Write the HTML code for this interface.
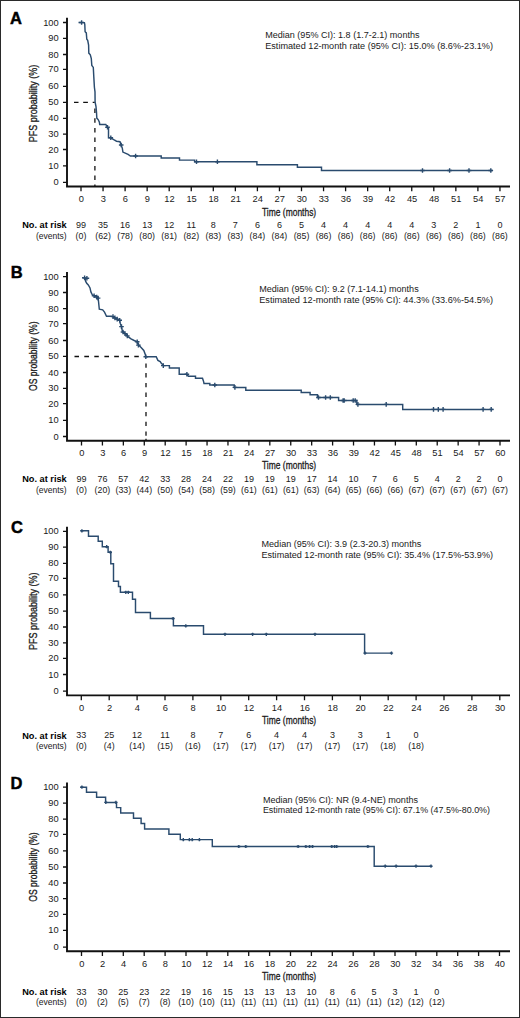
<!DOCTYPE html><html><head><meta charset="utf-8"><style>html,body{margin:0;padding:0;background:#fff}svg{display:block}text{font-family:"Liberation Sans",sans-serif}</style></head><body>
<svg width="520" height="1018" viewBox="0 0 520 1018">
<rect x="0" y="0" width="520" height="1018" fill="#fff"/>
<rect x="0.5" y="0.5" width="519" height="1017" fill="none" stroke="#2a2a2a" stroke-width="1"/>
<text x="9.90" y="23.75" font-size="16.5" font-weight="bold" fill="#000" stroke="#000" stroke-width="0.45">A</text>
<path d="M67,17.80 V186.50 H510" fill="none" stroke="#111" stroke-width="1.9"/>
<text x="58.70" y="185.40" font-size="9.3" text-anchor="end" fill="#1a1a1a">0</text>
<text x="58.70" y="168.90" font-size="9.3" text-anchor="end" fill="#1a1a1a">10</text>
<text x="58.70" y="152.50" font-size="9.3" text-anchor="end" fill="#1a1a1a">20</text>
<text x="58.70" y="137.20" font-size="9.3" text-anchor="end" fill="#1a1a1a">30</text>
<text x="58.70" y="121.30" font-size="9.3" text-anchor="end" fill="#1a1a1a">40</text>
<text x="58.70" y="105.40" font-size="9.3" text-anchor="end" fill="#1a1a1a">50</text>
<text x="58.70" y="89.40" font-size="9.3" text-anchor="end" fill="#1a1a1a">60</text>
<text x="58.70" y="72.40" font-size="9.3" text-anchor="end" fill="#1a1a1a">70</text>
<text x="58.70" y="57.50" font-size="9.3" text-anchor="end" fill="#1a1a1a">80</text>
<text x="58.70" y="41.30" font-size="9.3" text-anchor="end" fill="#1a1a1a">90</text>
<text x="58.70" y="25.50" font-size="9.3" text-anchor="end" fill="#1a1a1a">100</text>
<text x="81.30" y="202.20" font-size="9.3" text-anchor="middle" fill="#1a1a1a">0</text>
<text x="103.35" y="202.20" font-size="9.3" text-anchor="middle" fill="#1a1a1a">3</text>
<text x="125.40" y="202.20" font-size="9.3" text-anchor="middle" fill="#1a1a1a">6</text>
<text x="147.45" y="202.20" font-size="9.3" text-anchor="middle" fill="#1a1a1a">9</text>
<text x="169.50" y="202.20" font-size="9.3" text-anchor="middle" fill="#1a1a1a">12</text>
<text x="191.55" y="202.20" font-size="9.3" text-anchor="middle" fill="#1a1a1a">15</text>
<text x="213.60" y="202.20" font-size="9.3" text-anchor="middle" fill="#1a1a1a">18</text>
<text x="235.65" y="202.20" font-size="9.3" text-anchor="middle" fill="#1a1a1a">21</text>
<text x="257.70" y="202.20" font-size="9.3" text-anchor="middle" fill="#1a1a1a">24</text>
<text x="279.75" y="202.20" font-size="9.3" text-anchor="middle" fill="#1a1a1a">27</text>
<text x="301.80" y="202.20" font-size="9.3" text-anchor="middle" fill="#1a1a1a">30</text>
<text x="323.85" y="202.20" font-size="9.3" text-anchor="middle" fill="#1a1a1a">33</text>
<text x="345.90" y="202.20" font-size="9.3" text-anchor="middle" fill="#1a1a1a">36</text>
<text x="367.95" y="202.20" font-size="9.3" text-anchor="middle" fill="#1a1a1a">39</text>
<text x="390.00" y="202.20" font-size="9.3" text-anchor="middle" fill="#1a1a1a">42</text>
<text x="412.05" y="202.20" font-size="9.3" text-anchor="middle" fill="#1a1a1a">45</text>
<text x="434.10" y="202.20" font-size="9.3" text-anchor="middle" fill="#1a1a1a">48</text>
<text x="456.15" y="202.20" font-size="9.3" text-anchor="middle" fill="#1a1a1a">51</text>
<text x="478.20" y="202.20" font-size="9.3" text-anchor="middle" fill="#1a1a1a">54</text>
<text x="500.25" y="202.20" font-size="9.3" text-anchor="middle" fill="#1a1a1a">57</text>
<path d="M63,182.40H67M63,165.90H67M63,149.50H67M63,134.20H67M63,118.30H67M63,102.40H67M63,86.40H67M63,69.40H67M63,54.50H67M63,38.30H67M63,22.50H67M81.00,186.50V191.30M103.05,186.50V191.30M125.10,186.50V191.30M147.15,186.50V191.30M169.20,186.50V191.30M191.25,186.50V191.30M213.30,186.50V191.30M235.35,186.50V191.30M257.40,186.50V191.30M279.45,186.50V191.30M301.50,186.50V191.30M323.55,186.50V191.30M345.60,186.50V191.30M367.65,186.50V191.30M389.70,186.50V191.30M411.75,186.50V191.30M433.80,186.50V191.30M455.85,186.50V191.30M477.90,186.50V191.30M499.95,186.50V191.30" stroke="#111" stroke-width="1.3"/>
<text x="289.10" y="215.50" font-size="11.2" text-anchor="middle" textLength="54.20" lengthAdjust="spacingAndGlyphs" fill="#1a1a1a" stroke="#1a1a1a" stroke-width="0.3">Time (months)</text>
<text transform="translate(37.4,103.50) rotate(-90)" x="0" y="0" font-size="11.2" text-anchor="middle" textLength="77.60" lengthAdjust="spacingAndGlyphs" fill="#1a1a1a" stroke="#1a1a1a" stroke-width="0.3">PFS probability (%)</text>
<text x="265.20" y="37.90" font-size="8.9" textLength="154.30" lengthAdjust="spacingAndGlyphs" fill="#1a1a1a">Median (95% CI): 1.8 (1.7-2.1) months</text>
<text x="265.20" y="49.10" font-size="8.9" textLength="227.80" lengthAdjust="spacingAndGlyphs" fill="#1a1a1a">Estimated 12-month rate (95% CI): 15.0% (8.6%-23.1%)</text>
<text x="66.70" y="228.20" font-size="9.1" text-anchor="end" font-weight="bold" textLength="44.50" lengthAdjust="spacingAndGlyphs" fill="#000">No. at risk</text>
<text x="66.70" y="238.80" font-size="8.8" text-anchor="end" textLength="30.80" lengthAdjust="spacingAndGlyphs" fill="#1a1a1a">(events)</text>
<text x="81.00" y="228.00" font-size="9" text-anchor="middle" fill="#1a1a1a">99</text>
<text x="81.00" y="238.80" font-size="8.8" text-anchor="middle" fill="#1a1a1a">(0)</text>
<text x="103.05" y="228.00" font-size="9" text-anchor="middle" fill="#1a1a1a">35</text>
<text x="103.05" y="238.80" font-size="8.8" text-anchor="middle" fill="#1a1a1a">(62)</text>
<text x="125.10" y="228.00" font-size="9" text-anchor="middle" fill="#1a1a1a">16</text>
<text x="125.10" y="238.80" font-size="8.8" text-anchor="middle" fill="#1a1a1a">(78)</text>
<text x="147.15" y="228.00" font-size="9" text-anchor="middle" fill="#1a1a1a">13</text>
<text x="147.15" y="238.80" font-size="8.8" text-anchor="middle" fill="#1a1a1a">(80)</text>
<text x="169.20" y="228.00" font-size="9" text-anchor="middle" fill="#1a1a1a">12</text>
<text x="169.20" y="238.80" font-size="8.8" text-anchor="middle" fill="#1a1a1a">(81)</text>
<text x="191.25" y="228.00" font-size="9" text-anchor="middle" fill="#1a1a1a">11</text>
<text x="191.25" y="238.80" font-size="8.8" text-anchor="middle" fill="#1a1a1a">(82)</text>
<text x="213.30" y="228.00" font-size="9" text-anchor="middle" fill="#1a1a1a">8</text>
<text x="213.30" y="238.80" font-size="8.8" text-anchor="middle" fill="#1a1a1a">(83)</text>
<text x="235.35" y="228.00" font-size="9" text-anchor="middle" fill="#1a1a1a">7</text>
<text x="235.35" y="238.80" font-size="8.8" text-anchor="middle" fill="#1a1a1a">(83)</text>
<text x="257.40" y="228.00" font-size="9" text-anchor="middle" fill="#1a1a1a">6</text>
<text x="257.40" y="238.80" font-size="8.8" text-anchor="middle" fill="#1a1a1a">(84)</text>
<text x="279.45" y="228.00" font-size="9" text-anchor="middle" fill="#1a1a1a">6</text>
<text x="279.45" y="238.80" font-size="8.8" text-anchor="middle" fill="#1a1a1a">(84)</text>
<text x="301.50" y="228.00" font-size="9" text-anchor="middle" fill="#1a1a1a">5</text>
<text x="301.50" y="238.80" font-size="8.8" text-anchor="middle" fill="#1a1a1a">(85)</text>
<text x="323.55" y="228.00" font-size="9" text-anchor="middle" fill="#1a1a1a">4</text>
<text x="323.55" y="238.80" font-size="8.8" text-anchor="middle" fill="#1a1a1a">(86)</text>
<text x="345.60" y="228.00" font-size="9" text-anchor="middle" fill="#1a1a1a">4</text>
<text x="345.60" y="238.80" font-size="8.8" text-anchor="middle" fill="#1a1a1a">(86)</text>
<text x="367.65" y="228.00" font-size="9" text-anchor="middle" fill="#1a1a1a">4</text>
<text x="367.65" y="238.80" font-size="8.8" text-anchor="middle" fill="#1a1a1a">(86)</text>
<text x="389.70" y="228.00" font-size="9" text-anchor="middle" fill="#1a1a1a">4</text>
<text x="389.70" y="238.80" font-size="8.8" text-anchor="middle" fill="#1a1a1a">(86)</text>
<text x="411.75" y="228.00" font-size="9" text-anchor="middle" fill="#1a1a1a">4</text>
<text x="411.75" y="238.80" font-size="8.8" text-anchor="middle" fill="#1a1a1a">(86)</text>
<text x="433.80" y="228.00" font-size="9" text-anchor="middle" fill="#1a1a1a">3</text>
<text x="433.80" y="238.80" font-size="8.8" text-anchor="middle" fill="#1a1a1a">(86)</text>
<text x="455.85" y="228.00" font-size="9" text-anchor="middle" fill="#1a1a1a">2</text>
<text x="455.85" y="238.80" font-size="8.8" text-anchor="middle" fill="#1a1a1a">(86)</text>
<text x="477.90" y="228.00" font-size="9" text-anchor="middle" fill="#1a1a1a">1</text>
<text x="477.90" y="238.80" font-size="8.8" text-anchor="middle" fill="#1a1a1a">(86)</text>
<text x="499.95" y="228.00" font-size="9" text-anchor="middle" fill="#1a1a1a">0</text>
<text x="499.95" y="238.80" font-size="8.8" text-anchor="middle" fill="#1a1a1a">(86)</text>
<path d="M74,102.3H78.5M83.2,102.3H87.9M92.7,102.3H94.8M94.9,108.6V113M94.9,118.2V122.8M94.9,127.9V132.6M94.9,137.6V142.1M94.9,147V151.6M94.9,156.6V161.1M94.9,166V170.5M94.9,175.4V180M94.9,184.6V186.5" stroke="#111" stroke-width="1.3"/>
<path d="M78.50,22.50 L84.40,22.60 L84.80,24.50 L85.10,31.70 L86.30,32.90 L86.80,39.20 L87.70,40.40 L88.60,45.00 L88.80,53.10 L90.30,54.80 L91.30,58.50 L91.80,65.40 L93.30,67.40 L93.80,76.90 L94.40,87.30 L95.00,91.90 L95.10,102.20 L96.00,106.50 L96.50,112.30 L96.80,118.10 L98.30,119.80 L99.40,122.10 L99.70,124.40 L105.80,124.40 L107.50,127.30 L108.50,127.90 L108.50,137.70 L110.80,137.70 L112.50,138.80 L114.20,140.00 L116.50,141.20 L120.00,141.70 L121.20,145.20 L122.30,148.10 L122.90,152.10 L125.80,153.30 L128.10,154.40 L130.40,156.00 L161.20,156.00 L161.20,157.90 L179.50,157.90 L179.50,160.10 L194.60,160.10 L194.60,161.80 L256.90,161.80 L256.90,164.70 L297.40,164.70 L297.40,167.30 L321.50,167.30 L321.50,170.50 L492.50,170.50" fill="none" stroke="#2a4b6e" stroke-width="1.45" stroke-linejoin="miter"/>
<path d="M81.60,20.20V24.80M79.30,22.50H83.90M107.50,125.00V129.60M105.20,127.30H109.80M110.80,135.40V140.00M108.50,137.70H113.10M121.20,142.70V147.30M118.90,145.00H123.50M135.60,153.70V158.30M133.30,156.00H137.90M196.50,159.50V164.10M194.20,161.80H198.80M217.40,159.50V164.10M215.10,161.80H219.70M422.50,168.20V172.80M420.20,170.50H424.80M449.60,168.20V172.80M447.30,170.50H451.90M469.00,168.20V172.80M466.70,170.50H471.30M490.80,168.20V172.80M488.50,170.50H493.10" stroke="#2a4b6e" stroke-width="1.4"/>
<text x="10.80" y="278.40" font-size="16.5" font-weight="bold" fill="#000" stroke="#000" stroke-width="0.45">B</text>
<path d="M67,272.10 V440.80 H510" fill="none" stroke="#111" stroke-width="1.9"/>
<text x="58.70" y="439.50" font-size="9.3" text-anchor="end" fill="#1a1a1a">0</text>
<text x="58.70" y="423.30" font-size="9.3" text-anchor="end" fill="#1a1a1a">10</text>
<text x="58.70" y="406.60" font-size="9.3" text-anchor="end" fill="#1a1a1a">20</text>
<text x="58.70" y="391.40" font-size="9.3" text-anchor="end" fill="#1a1a1a">30</text>
<text x="58.70" y="375.50" font-size="9.3" text-anchor="end" fill="#1a1a1a">40</text>
<text x="58.70" y="359.40" font-size="9.3" text-anchor="end" fill="#1a1a1a">50</text>
<text x="58.70" y="343.50" font-size="9.3" text-anchor="end" fill="#1a1a1a">60</text>
<text x="58.70" y="326.70" font-size="9.3" text-anchor="end" fill="#1a1a1a">70</text>
<text x="58.70" y="311.60" font-size="9.3" text-anchor="end" fill="#1a1a1a">80</text>
<text x="58.70" y="295.50" font-size="9.3" text-anchor="end" fill="#1a1a1a">90</text>
<text x="58.70" y="279.60" font-size="9.3" text-anchor="end" fill="#1a1a1a">100</text>
<text x="81.80" y="456.20" font-size="9.3" text-anchor="middle" fill="#1a1a1a">0</text>
<text x="102.72" y="456.20" font-size="9.3" text-anchor="middle" fill="#1a1a1a">3</text>
<text x="123.65" y="456.20" font-size="9.3" text-anchor="middle" fill="#1a1a1a">6</text>
<text x="144.58" y="456.20" font-size="9.3" text-anchor="middle" fill="#1a1a1a">9</text>
<text x="165.50" y="456.20" font-size="9.3" text-anchor="middle" fill="#1a1a1a">12</text>
<text x="186.43" y="456.20" font-size="9.3" text-anchor="middle" fill="#1a1a1a">15</text>
<text x="207.35" y="456.20" font-size="9.3" text-anchor="middle" fill="#1a1a1a">18</text>
<text x="228.28" y="456.20" font-size="9.3" text-anchor="middle" fill="#1a1a1a">21</text>
<text x="249.20" y="456.20" font-size="9.3" text-anchor="middle" fill="#1a1a1a">24</text>
<text x="270.12" y="456.20" font-size="9.3" text-anchor="middle" fill="#1a1a1a">27</text>
<text x="291.05" y="456.20" font-size="9.3" text-anchor="middle" fill="#1a1a1a">30</text>
<text x="311.97" y="456.20" font-size="9.3" text-anchor="middle" fill="#1a1a1a">33</text>
<text x="332.90" y="456.20" font-size="9.3" text-anchor="middle" fill="#1a1a1a">36</text>
<text x="353.82" y="456.20" font-size="9.3" text-anchor="middle" fill="#1a1a1a">39</text>
<text x="374.75" y="456.20" font-size="9.3" text-anchor="middle" fill="#1a1a1a">42</text>
<text x="395.68" y="456.20" font-size="9.3" text-anchor="middle" fill="#1a1a1a">45</text>
<text x="416.60" y="456.20" font-size="9.3" text-anchor="middle" fill="#1a1a1a">48</text>
<text x="437.52" y="456.20" font-size="9.3" text-anchor="middle" fill="#1a1a1a">51</text>
<text x="458.45" y="456.20" font-size="9.3" text-anchor="middle" fill="#1a1a1a">54</text>
<text x="479.38" y="456.20" font-size="9.3" text-anchor="middle" fill="#1a1a1a">57</text>
<text x="500.30" y="456.20" font-size="9.3" text-anchor="middle" fill="#1a1a1a">60</text>
<path d="M63,436.50H67M63,420.30H67M63,403.60H67M63,388.40H67M63,372.50H67M63,356.40H67M63,340.50H67M63,323.70H67M63,308.60H67M63,292.50H67M63,276.60H67M81.50,440.80V445.60M102.42,440.80V445.60M123.35,440.80V445.60M144.28,440.80V445.60M165.20,440.80V445.60M186.12,440.80V445.60M207.05,440.80V445.60M227.97,440.80V445.60M248.90,440.80V445.60M269.82,440.80V445.60M290.75,440.80V445.60M311.67,440.80V445.60M332.60,440.80V445.60M353.52,440.80V445.60M374.45,440.80V445.60M395.38,440.80V445.60M416.30,440.80V445.60M437.22,440.80V445.60M458.15,440.80V445.60M479.07,440.80V445.60M500.00,440.80V445.60" stroke="#111" stroke-width="1.3"/>
<text x="289.10" y="469.20" font-size="11.2" text-anchor="middle" textLength="54.20" lengthAdjust="spacingAndGlyphs" fill="#1a1a1a" stroke="#1a1a1a" stroke-width="0.3">Time (months)</text>
<text transform="translate(37.4,356.20) rotate(-90)" x="0" y="0" font-size="11.2" text-anchor="middle" textLength="69.40" lengthAdjust="spacingAndGlyphs" fill="#1a1a1a" stroke="#1a1a1a" stroke-width="0.3">OS probability (%)</text>
<text x="259.20" y="292.20" font-size="8.9" textLength="159.50" lengthAdjust="spacingAndGlyphs" fill="#1a1a1a">Median (95% CI): 9.2 (7.1-14.1) months</text>
<text x="259.20" y="303.30" font-size="8.9" textLength="233.80" lengthAdjust="spacingAndGlyphs" fill="#1a1a1a">Estimated 12-month rate (95% CI): 44.3% (33.6%-54.5%)</text>
<text x="66.70" y="482.20" font-size="9.1" text-anchor="end" font-weight="bold" textLength="44.50" lengthAdjust="spacingAndGlyphs" fill="#000">No. at risk</text>
<text x="66.70" y="492.80" font-size="8.8" text-anchor="end" textLength="30.80" lengthAdjust="spacingAndGlyphs" fill="#1a1a1a">(events)</text>
<text x="81.50" y="482.00" font-size="9" text-anchor="middle" fill="#1a1a1a">99</text>
<text x="81.50" y="492.80" font-size="8.8" text-anchor="middle" fill="#1a1a1a">(0)</text>
<text x="102.42" y="482.00" font-size="9" text-anchor="middle" fill="#1a1a1a">76</text>
<text x="102.42" y="492.80" font-size="8.8" text-anchor="middle" fill="#1a1a1a">(20)</text>
<text x="123.35" y="482.00" font-size="9" text-anchor="middle" fill="#1a1a1a">57</text>
<text x="123.35" y="492.80" font-size="8.8" text-anchor="middle" fill="#1a1a1a">(33)</text>
<text x="144.28" y="482.00" font-size="9" text-anchor="middle" fill="#1a1a1a">42</text>
<text x="144.28" y="492.80" font-size="8.8" text-anchor="middle" fill="#1a1a1a">(44)</text>
<text x="165.20" y="482.00" font-size="9" text-anchor="middle" fill="#1a1a1a">33</text>
<text x="165.20" y="492.80" font-size="8.8" text-anchor="middle" fill="#1a1a1a">(50)</text>
<text x="186.12" y="482.00" font-size="9" text-anchor="middle" fill="#1a1a1a">28</text>
<text x="186.12" y="492.80" font-size="8.8" text-anchor="middle" fill="#1a1a1a">(54)</text>
<text x="207.05" y="482.00" font-size="9" text-anchor="middle" fill="#1a1a1a">24</text>
<text x="207.05" y="492.80" font-size="8.8" text-anchor="middle" fill="#1a1a1a">(58)</text>
<text x="227.97" y="482.00" font-size="9" text-anchor="middle" fill="#1a1a1a">22</text>
<text x="227.97" y="492.80" font-size="8.8" text-anchor="middle" fill="#1a1a1a">(59)</text>
<text x="248.90" y="482.00" font-size="9" text-anchor="middle" fill="#1a1a1a">19</text>
<text x="248.90" y="492.80" font-size="8.8" text-anchor="middle" fill="#1a1a1a">(61)</text>
<text x="269.82" y="482.00" font-size="9" text-anchor="middle" fill="#1a1a1a">19</text>
<text x="269.82" y="492.80" font-size="8.8" text-anchor="middle" fill="#1a1a1a">(61)</text>
<text x="290.75" y="482.00" font-size="9" text-anchor="middle" fill="#1a1a1a">19</text>
<text x="290.75" y="492.80" font-size="8.8" text-anchor="middle" fill="#1a1a1a">(61)</text>
<text x="311.67" y="482.00" font-size="9" text-anchor="middle" fill="#1a1a1a">17</text>
<text x="311.67" y="492.80" font-size="8.8" text-anchor="middle" fill="#1a1a1a">(63)</text>
<text x="332.60" y="482.00" font-size="9" text-anchor="middle" fill="#1a1a1a">14</text>
<text x="332.60" y="492.80" font-size="8.8" text-anchor="middle" fill="#1a1a1a">(64)</text>
<text x="353.52" y="482.00" font-size="9" text-anchor="middle" fill="#1a1a1a">10</text>
<text x="353.52" y="492.80" font-size="8.8" text-anchor="middle" fill="#1a1a1a">(65)</text>
<text x="374.45" y="482.00" font-size="9" text-anchor="middle" fill="#1a1a1a">7</text>
<text x="374.45" y="492.80" font-size="8.8" text-anchor="middle" fill="#1a1a1a">(66)</text>
<text x="395.38" y="482.00" font-size="9" text-anchor="middle" fill="#1a1a1a">6</text>
<text x="395.38" y="492.80" font-size="8.8" text-anchor="middle" fill="#1a1a1a">(66)</text>
<text x="416.30" y="482.00" font-size="9" text-anchor="middle" fill="#1a1a1a">5</text>
<text x="416.30" y="492.80" font-size="8.8" text-anchor="middle" fill="#1a1a1a">(67)</text>
<text x="437.22" y="482.00" font-size="9" text-anchor="middle" fill="#1a1a1a">4</text>
<text x="437.22" y="492.80" font-size="8.8" text-anchor="middle" fill="#1a1a1a">(67)</text>
<text x="458.15" y="482.00" font-size="9" text-anchor="middle" fill="#1a1a1a">2</text>
<text x="458.15" y="492.80" font-size="8.8" text-anchor="middle" fill="#1a1a1a">(67)</text>
<text x="479.07" y="482.00" font-size="9" text-anchor="middle" fill="#1a1a1a">2</text>
<text x="479.07" y="492.80" font-size="8.8" text-anchor="middle" fill="#1a1a1a">(67)</text>
<text x="500.00" y="482.00" font-size="9" text-anchor="middle" fill="#1a1a1a">0</text>
<text x="500.00" y="492.80" font-size="8.8" text-anchor="middle" fill="#1a1a1a">(67)</text>
<path d="M74.5,356.5H79M84.3,356.5H89M94.3,356.5H98.8M104.4,356.5H109M114.2,356.5H118.9M124.2,356.5H129M134.3,356.5H138.8M146.0,363.4V367.8M146.0,373.1V377.5M146.0,382.9V387.3M146.0,392.6V397M146.0,402.3V406.6M146.0,412V416.3M146.0,421.7V426M146.0,431.4V435.7M146.0,438.8V441" stroke="#111" stroke-width="1.3"/>
<path d="M82.00,277.60 L85.30,278.20 L85.60,281.20 L86.70,283.30 L88.30,285.00 L90.00,287.90 L90.90,291.90 L92.30,294.80 L94.10,295.70 L96.70,297.10 L98.20,298.30 L98.60,302.30 L99.30,309.20 L102.70,309.80 L104.50,312.10 L106.50,316.20 L111.80,316.20 L115.70,318.30 L119.50,320.30 L120.30,323.50 L121.50,326.60 L122.20,330.50 L124.00,332.50 L126.00,334.50 L128.00,336.60 L131.00,338.90 L134.20,340.50 L137.20,341.80 L138.00,344.30 L141.10,347.40 L143.80,350.50 L145.30,354.50 L145.80,356.70 L156.20,356.70 L157.90,360.40 L160.20,361.50 L161.30,363.30 L163.70,365.60 L169.40,365.60 L169.40,367.90 L179.20,367.90 L179.20,374.20 L186.50,374.20 L188.50,376.20 L195.50,376.20 L195.50,378.30 L202.50,378.30 L203.50,381.20 L204.00,383.50 L209.80,383.50 L209.80,385.00 L234.20,385.00 L234.20,387.40 L245.80,387.40 L245.80,390.20 L301.20,390.20 L301.20,392.40 L310.10,392.40 L310.10,394.80 L317.50,394.80 L317.50,397.50 L338.60,397.50 L338.60,400.50 L356.80,400.50 L356.80,404.40 L402.70,404.40 L402.70,409.40 L493.50,409.40" fill="none" stroke="#2a4b6e" stroke-width="1.45" stroke-linejoin="miter"/>
<path d="M84.60,275.60V280.20M82.30,277.90H86.90M86.90,276.00V280.60M84.60,278.30H89.20M94.10,293.40V298.00M91.80,295.70H96.40M96.70,294.80V299.40M94.40,297.10H99.00M98.10,295.80V300.40M95.80,298.10H100.40M113.00,314.30V318.90M110.70,316.60H115.30M114.90,315.60V320.20M112.60,317.90H117.20M117.20,316.80V321.40M114.90,319.10H119.50M119.70,318.00V322.60M117.40,320.30H122.00M121.50,324.30V328.90M119.20,326.60H123.80M123.00,329.70V334.30M120.70,332.00H125.30M125.00,331.30V335.90M122.70,333.60H127.30M127.30,333.60V338.20M125.00,335.90H129.60M137.20,339.40V344.00M134.90,341.70H139.50M138.40,342.80V347.40M136.10,345.10H140.70M145.80,354.40V359.00M143.50,356.70H148.10M163.30,363.30V367.90M161.00,365.60H165.60M186.90,371.90V376.50M184.60,374.20H189.20M214.80,382.70V387.30M212.50,385.00H217.10M234.90,385.10V389.70M232.60,387.40H237.20M318.50,395.20V399.80M316.20,397.50H320.80M325.60,395.20V399.80M323.30,397.50H327.90M330.30,395.20V399.80M328.00,397.50H332.60M343.10,398.20V402.80M340.80,400.50H345.40M344.20,398.20V402.80M341.90,400.50H346.50M353.20,398.20V402.80M350.90,400.50H355.50M355.20,398.20V402.80M352.90,400.50H357.50M357.90,402.10V406.70M355.60,404.40H360.20M386.20,402.10V406.70M383.90,404.40H388.50M433.50,407.10V411.70M431.20,409.40H435.80M438.30,407.10V411.70M436.00,409.40H440.60M443.10,407.10V411.70M440.80,409.40H445.40M483.10,407.10V411.70M480.80,409.40H485.40M491.20,407.10V411.70M488.90,409.40H493.50" stroke="#2a4b6e" stroke-width="1.4"/>
<text x="10.90" y="532.90" font-size="16.5" font-weight="bold" fill="#000" stroke="#000" stroke-width="0.45">C</text>
<path d="M67,526.70 V695.40 H510" fill="none" stroke="#111" stroke-width="1.9"/>
<text x="58.70" y="694.10" font-size="9.3" text-anchor="end" fill="#1a1a1a">0</text>
<text x="58.70" y="677.50" font-size="9.3" text-anchor="end" fill="#1a1a1a">10</text>
<text x="58.70" y="661.40" font-size="9.3" text-anchor="end" fill="#1a1a1a">20</text>
<text x="58.70" y="645.90" font-size="9.3" text-anchor="end" fill="#1a1a1a">30</text>
<text x="58.70" y="630.00" font-size="9.3" text-anchor="end" fill="#1a1a1a">40</text>
<text x="58.70" y="614.10" font-size="9.3" text-anchor="end" fill="#1a1a1a">50</text>
<text x="58.70" y="597.90" font-size="9.3" text-anchor="end" fill="#1a1a1a">60</text>
<text x="58.70" y="581.40" font-size="9.3" text-anchor="end" fill="#1a1a1a">70</text>
<text x="58.70" y="566.30" font-size="9.3" text-anchor="end" fill="#1a1a1a">80</text>
<text x="58.70" y="550.20" font-size="9.3" text-anchor="end" fill="#1a1a1a">90</text>
<text x="58.70" y="534.30" font-size="9.3" text-anchor="end" fill="#1a1a1a">100</text>
<text x="81.60" y="710.80" font-size="9.3" text-anchor="middle" fill="#1a1a1a">0</text>
<text x="109.50" y="710.80" font-size="9.3" text-anchor="middle" fill="#1a1a1a">2</text>
<text x="137.40" y="710.80" font-size="9.3" text-anchor="middle" fill="#1a1a1a">4</text>
<text x="165.30" y="710.80" font-size="9.3" text-anchor="middle" fill="#1a1a1a">6</text>
<text x="193.20" y="710.80" font-size="9.3" text-anchor="middle" fill="#1a1a1a">8</text>
<text x="221.10" y="710.80" font-size="9.3" text-anchor="middle" fill="#1a1a1a">10</text>
<text x="249.00" y="710.80" font-size="9.3" text-anchor="middle" fill="#1a1a1a">12</text>
<text x="276.90" y="710.80" font-size="9.3" text-anchor="middle" fill="#1a1a1a">14</text>
<text x="304.80" y="710.80" font-size="9.3" text-anchor="middle" fill="#1a1a1a">16</text>
<text x="332.70" y="710.80" font-size="9.3" text-anchor="middle" fill="#1a1a1a">18</text>
<text x="360.60" y="710.80" font-size="9.3" text-anchor="middle" fill="#1a1a1a">20</text>
<text x="388.50" y="710.80" font-size="9.3" text-anchor="middle" fill="#1a1a1a">22</text>
<text x="416.40" y="710.80" font-size="9.3" text-anchor="middle" fill="#1a1a1a">24</text>
<text x="444.30" y="710.80" font-size="9.3" text-anchor="middle" fill="#1a1a1a">26</text>
<text x="472.20" y="710.80" font-size="9.3" text-anchor="middle" fill="#1a1a1a">28</text>
<text x="500.10" y="710.80" font-size="9.3" text-anchor="middle" fill="#1a1a1a">30</text>
<path d="M63,691.10H67M63,674.50H67M63,658.40H67M63,642.90H67M63,627.00H67M63,611.10H67M63,594.90H67M63,578.40H67M63,563.30H67M63,547.20H67M63,531.30H67M81.30,695.40V700.20M109.20,695.40V700.20M137.10,695.40V700.20M165.00,695.40V700.20M192.90,695.40V700.20M220.80,695.40V700.20M248.70,695.40V700.20M276.60,695.40V700.20M304.50,695.40V700.20M332.40,695.40V700.20M360.30,695.40V700.20M388.20,695.40V700.20M416.10,695.40V700.20M444.00,695.40V700.20M471.90,695.40V700.20M499.80,695.40V700.20" stroke="#111" stroke-width="1.3"/>
<text x="289.10" y="723.80" font-size="11.2" text-anchor="middle" textLength="54.20" lengthAdjust="spacingAndGlyphs" fill="#1a1a1a" stroke="#1a1a1a" stroke-width="0.3">Time (months)</text>
<text transform="translate(37.4,611.20) rotate(-90)" x="0" y="0" font-size="11.2" text-anchor="middle" textLength="77.60" lengthAdjust="spacingAndGlyphs" fill="#1a1a1a" stroke="#1a1a1a" stroke-width="0.3">PFS probability (%)</text>
<text x="261.50" y="547.00" font-size="8.9" textLength="159.75" lengthAdjust="spacingAndGlyphs" fill="#1a1a1a">Median (95% CI): 3.9 (2.3-20.3) months</text>
<text x="261.50" y="557.90" font-size="8.9" textLength="231.50" lengthAdjust="spacingAndGlyphs" fill="#1a1a1a">Estimated 12-month rate (95% CI): 35.4% (17.5%-53.9%)</text>
<text x="66.70" y="738.50" font-size="9.1" text-anchor="end" font-weight="bold" textLength="44.50" lengthAdjust="spacingAndGlyphs" fill="#000">No. at risk</text>
<text x="66.70" y="749.20" font-size="8.8" text-anchor="end" textLength="30.80" lengthAdjust="spacingAndGlyphs" fill="#1a1a1a">(events)</text>
<text x="81.30" y="738.30" font-size="9" text-anchor="middle" fill="#1a1a1a">33</text>
<text x="81.30" y="749.20" font-size="8.8" text-anchor="middle" fill="#1a1a1a">(0)</text>
<text x="109.20" y="738.30" font-size="9" text-anchor="middle" fill="#1a1a1a">25</text>
<text x="109.20" y="749.20" font-size="8.8" text-anchor="middle" fill="#1a1a1a">(4)</text>
<text x="137.10" y="738.30" font-size="9" text-anchor="middle" fill="#1a1a1a">12</text>
<text x="137.10" y="749.20" font-size="8.8" text-anchor="middle" fill="#1a1a1a">(14)</text>
<text x="165.00" y="738.30" font-size="9" text-anchor="middle" fill="#1a1a1a">11</text>
<text x="165.00" y="749.20" font-size="8.8" text-anchor="middle" fill="#1a1a1a">(15)</text>
<text x="192.90" y="738.30" font-size="9" text-anchor="middle" fill="#1a1a1a">8</text>
<text x="192.90" y="749.20" font-size="8.8" text-anchor="middle" fill="#1a1a1a">(16)</text>
<text x="220.80" y="738.30" font-size="9" text-anchor="middle" fill="#1a1a1a">7</text>
<text x="220.80" y="749.20" font-size="8.8" text-anchor="middle" fill="#1a1a1a">(17)</text>
<text x="248.70" y="738.30" font-size="9" text-anchor="middle" fill="#1a1a1a">6</text>
<text x="248.70" y="749.20" font-size="8.8" text-anchor="middle" fill="#1a1a1a">(17)</text>
<text x="276.60" y="738.30" font-size="9" text-anchor="middle" fill="#1a1a1a">4</text>
<text x="276.60" y="749.20" font-size="8.8" text-anchor="middle" fill="#1a1a1a">(17)</text>
<text x="304.50" y="738.30" font-size="9" text-anchor="middle" fill="#1a1a1a">4</text>
<text x="304.50" y="749.20" font-size="8.8" text-anchor="middle" fill="#1a1a1a">(17)</text>
<text x="332.40" y="738.30" font-size="9" text-anchor="middle" fill="#1a1a1a">3</text>
<text x="332.40" y="749.20" font-size="8.8" text-anchor="middle" fill="#1a1a1a">(17)</text>
<text x="360.30" y="738.30" font-size="9" text-anchor="middle" fill="#1a1a1a">3</text>
<text x="360.30" y="749.20" font-size="8.8" text-anchor="middle" fill="#1a1a1a">(17)</text>
<text x="388.20" y="738.30" font-size="9" text-anchor="middle" fill="#1a1a1a">1</text>
<text x="388.20" y="749.20" font-size="8.8" text-anchor="middle" fill="#1a1a1a">(18)</text>
<text x="416.10" y="738.30" font-size="9" text-anchor="middle" fill="#1a1a1a">0</text>
<text x="416.10" y="749.20" font-size="8.8" text-anchor="middle" fill="#1a1a1a">(18)</text>
<path d="M80.60,530.80 L88.50,530.80 L88.50,536.20 L98.20,536.20 L98.20,541.20 L102.30,541.20 L102.30,546.70 L108.10,546.70 L108.10,552.30 L110.80,552.30 L110.80,563.80 L113.50,563.80 L113.50,581.20 L118.50,581.20 L118.50,586.50 L120.40,586.50 L120.40,592.30 L132.50,592.30 L132.50,599.30 L135.50,599.30 L135.50,612.40 L150.40,612.40 L150.40,618.50 L173.40,618.50 L173.40,625.80 L203.50,625.80 L203.50,634.30 L364.60,634.30 L364.60,653.10 L391.80,653.10" fill="none" stroke="#2a4b6e" stroke-width="1.45" stroke-linejoin="miter"/>
<path d="M81.90,529.20V532.40M80.30,530.80H83.50M106.70,545.10V548.30M105.10,546.70H108.30M110.40,550.70V553.90M108.80,552.30H112.00M125.80,590.70V593.90M124.20,592.30H127.40M128.30,590.70V593.90M126.70,592.30H129.90M173.10,616.90V620.10M171.50,618.50H174.70M185.80,624.20V627.40M184.20,625.80H187.40M225.00,632.70V635.90M223.40,634.30H226.60M252.60,632.70V635.90M251.00,634.30H254.20M266.30,632.70V635.90M264.70,634.30H267.90M315.00,632.70V635.90M313.40,634.30H316.60M365.00,651.50V654.70M363.40,653.10H366.60M391.50,651.50V654.70M389.90,653.10H393.10" stroke="#2a4b6e" stroke-width="1.4"/>
<text x="10.60" y="788.70" font-size="16.5" font-weight="bold" fill="#000" stroke="#000" stroke-width="0.45">D</text>
<path d="M67,782.50 V951.30 H510" fill="none" stroke="#111" stroke-width="1.9"/>
<text x="58.70" y="950.10" font-size="9.3" text-anchor="end" fill="#1a1a1a">0</text>
<text x="58.70" y="933.30" font-size="9.3" text-anchor="end" fill="#1a1a1a">10</text>
<text x="58.70" y="917.40" font-size="9.3" text-anchor="end" fill="#1a1a1a">20</text>
<text x="58.70" y="901.70" font-size="9.3" text-anchor="end" fill="#1a1a1a">30</text>
<text x="58.70" y="886.00" font-size="9.3" text-anchor="end" fill="#1a1a1a">40</text>
<text x="58.70" y="870.00" font-size="9.3" text-anchor="end" fill="#1a1a1a">50</text>
<text x="58.70" y="853.90" font-size="9.3" text-anchor="end" fill="#1a1a1a">60</text>
<text x="58.70" y="837.40" font-size="9.3" text-anchor="end" fill="#1a1a1a">70</text>
<text x="58.70" y="822.10" font-size="9.3" text-anchor="end" fill="#1a1a1a">80</text>
<text x="58.70" y="806.20" font-size="9.3" text-anchor="end" fill="#1a1a1a">90</text>
<text x="58.70" y="790.10" font-size="9.3" text-anchor="end" fill="#1a1a1a">100</text>
<text x="81.80" y="966.70" font-size="9.3" text-anchor="middle" fill="#1a1a1a">0</text>
<text x="102.70" y="966.70" font-size="9.3" text-anchor="middle" fill="#1a1a1a">2</text>
<text x="123.60" y="966.70" font-size="9.3" text-anchor="middle" fill="#1a1a1a">4</text>
<text x="144.50" y="966.70" font-size="9.3" text-anchor="middle" fill="#1a1a1a">6</text>
<text x="165.40" y="966.70" font-size="9.3" text-anchor="middle" fill="#1a1a1a">8</text>
<text x="186.30" y="966.70" font-size="9.3" text-anchor="middle" fill="#1a1a1a">10</text>
<text x="207.20" y="966.70" font-size="9.3" text-anchor="middle" fill="#1a1a1a">12</text>
<text x="228.10" y="966.70" font-size="9.3" text-anchor="middle" fill="#1a1a1a">14</text>
<text x="249.00" y="966.70" font-size="9.3" text-anchor="middle" fill="#1a1a1a">16</text>
<text x="269.90" y="966.70" font-size="9.3" text-anchor="middle" fill="#1a1a1a">18</text>
<text x="290.80" y="966.70" font-size="9.3" text-anchor="middle" fill="#1a1a1a">20</text>
<text x="311.70" y="966.70" font-size="9.3" text-anchor="middle" fill="#1a1a1a">22</text>
<text x="332.60" y="966.70" font-size="9.3" text-anchor="middle" fill="#1a1a1a">24</text>
<text x="353.50" y="966.70" font-size="9.3" text-anchor="middle" fill="#1a1a1a">26</text>
<text x="374.40" y="966.70" font-size="9.3" text-anchor="middle" fill="#1a1a1a">28</text>
<text x="395.30" y="966.70" font-size="9.3" text-anchor="middle" fill="#1a1a1a">30</text>
<text x="416.20" y="966.70" font-size="9.3" text-anchor="middle" fill="#1a1a1a">32</text>
<text x="437.10" y="966.70" font-size="9.3" text-anchor="middle" fill="#1a1a1a">34</text>
<text x="458.00" y="966.70" font-size="9.3" text-anchor="middle" fill="#1a1a1a">36</text>
<text x="478.90" y="966.70" font-size="9.3" text-anchor="middle" fill="#1a1a1a">38</text>
<text x="499.80" y="966.70" font-size="9.3" text-anchor="middle" fill="#1a1a1a">40</text>
<path d="M63,947.10H67M63,930.30H67M63,914.40H67M63,898.70H67M63,883.00H67M63,867.00H67M63,850.90H67M63,834.40H67M63,819.10H67M63,803.20H67M63,787.10H67M81.50,951.30V956.10M102.40,951.30V956.10M123.30,951.30V956.10M144.20,951.30V956.10M165.10,951.30V956.10M186.00,951.30V956.10M206.90,951.30V956.10M227.80,951.30V956.10M248.70,951.30V956.10M269.60,951.30V956.10M290.50,951.30V956.10M311.40,951.30V956.10M332.30,951.30V956.10M353.20,951.30V956.10M374.10,951.30V956.10M395.00,951.30V956.10M415.90,951.30V956.10M436.80,951.30V956.10M457.70,951.30V956.10M478.60,951.30V956.10M499.50,951.30V956.10" stroke="#111" stroke-width="1.3"/>
<text x="289.10" y="979.80" font-size="11.2" text-anchor="middle" textLength="54.20" lengthAdjust="spacingAndGlyphs" fill="#1a1a1a" stroke="#1a1a1a" stroke-width="0.3">Time (months)</text>
<text transform="translate(37.4,867.00) rotate(-90)" x="0" y="0" font-size="11.2" text-anchor="middle" textLength="69.40" lengthAdjust="spacingAndGlyphs" fill="#1a1a1a" stroke="#1a1a1a" stroke-width="0.3">OS probability (%)</text>
<text x="262.90" y="802.50" font-size="8.9" textLength="155.10" lengthAdjust="spacingAndGlyphs" fill="#1a1a1a">Median (95% CI): NR (9.4-NE) months</text>
<text x="262.90" y="813.10" font-size="8.9" textLength="227.10" lengthAdjust="spacingAndGlyphs" fill="#1a1a1a">Estimated 12-month rate (95% CI): 67.1% (47.5%-80.0%)</text>
<text x="66.70" y="994.70" font-size="9.1" text-anchor="end" font-weight="bold" textLength="44.50" lengthAdjust="spacingAndGlyphs" fill="#000">No. at risk</text>
<text x="66.70" y="1005.20" font-size="8.8" text-anchor="end" textLength="30.80" lengthAdjust="spacingAndGlyphs" fill="#1a1a1a">(events)</text>
<text x="81.50" y="994.50" font-size="9" text-anchor="middle" fill="#1a1a1a">33</text>
<text x="81.50" y="1005.20" font-size="8.8" text-anchor="middle" fill="#1a1a1a">(0)</text>
<text x="102.40" y="994.50" font-size="9" text-anchor="middle" fill="#1a1a1a">30</text>
<text x="102.40" y="1005.20" font-size="8.8" text-anchor="middle" fill="#1a1a1a">(2)</text>
<text x="123.30" y="994.50" font-size="9" text-anchor="middle" fill="#1a1a1a">25</text>
<text x="123.30" y="1005.20" font-size="8.8" text-anchor="middle" fill="#1a1a1a">(5)</text>
<text x="144.20" y="994.50" font-size="9" text-anchor="middle" fill="#1a1a1a">23</text>
<text x="144.20" y="1005.20" font-size="8.8" text-anchor="middle" fill="#1a1a1a">(7)</text>
<text x="165.10" y="994.50" font-size="9" text-anchor="middle" fill="#1a1a1a">22</text>
<text x="165.10" y="1005.20" font-size="8.8" text-anchor="middle" fill="#1a1a1a">(8)</text>
<text x="186.00" y="994.50" font-size="9" text-anchor="middle" fill="#1a1a1a">19</text>
<text x="186.00" y="1005.20" font-size="8.8" text-anchor="middle" fill="#1a1a1a">(10)</text>
<text x="206.90" y="994.50" font-size="9" text-anchor="middle" fill="#1a1a1a">16</text>
<text x="206.90" y="1005.20" font-size="8.8" text-anchor="middle" fill="#1a1a1a">(10)</text>
<text x="227.80" y="994.50" font-size="9" text-anchor="middle" fill="#1a1a1a">15</text>
<text x="227.80" y="1005.20" font-size="8.8" text-anchor="middle" fill="#1a1a1a">(11)</text>
<text x="248.70" y="994.50" font-size="9" text-anchor="middle" fill="#1a1a1a">13</text>
<text x="248.70" y="1005.20" font-size="8.8" text-anchor="middle" fill="#1a1a1a">(11)</text>
<text x="269.60" y="994.50" font-size="9" text-anchor="middle" fill="#1a1a1a">13</text>
<text x="269.60" y="1005.20" font-size="8.8" text-anchor="middle" fill="#1a1a1a">(11)</text>
<text x="290.50" y="994.50" font-size="9" text-anchor="middle" fill="#1a1a1a">13</text>
<text x="290.50" y="1005.20" font-size="8.8" text-anchor="middle" fill="#1a1a1a">(11)</text>
<text x="311.40" y="994.50" font-size="9" text-anchor="middle" fill="#1a1a1a">10</text>
<text x="311.40" y="1005.20" font-size="8.8" text-anchor="middle" fill="#1a1a1a">(11)</text>
<text x="332.30" y="994.50" font-size="9" text-anchor="middle" fill="#1a1a1a">8</text>
<text x="332.30" y="1005.20" font-size="8.8" text-anchor="middle" fill="#1a1a1a">(11)</text>
<text x="353.20" y="994.50" font-size="9" text-anchor="middle" fill="#1a1a1a">6</text>
<text x="353.20" y="1005.20" font-size="8.8" text-anchor="middle" fill="#1a1a1a">(11)</text>
<text x="374.10" y="994.50" font-size="9" text-anchor="middle" fill="#1a1a1a">5</text>
<text x="374.10" y="1005.20" font-size="8.8" text-anchor="middle" fill="#1a1a1a">(11)</text>
<text x="395.00" y="994.50" font-size="9" text-anchor="middle" fill="#1a1a1a">3</text>
<text x="395.00" y="1005.20" font-size="8.8" text-anchor="middle" fill="#1a1a1a">(12)</text>
<text x="415.90" y="994.50" font-size="9" text-anchor="middle" fill="#1a1a1a">1</text>
<text x="415.90" y="1005.20" font-size="8.8" text-anchor="middle" fill="#1a1a1a">(12)</text>
<text x="436.80" y="994.50" font-size="9" text-anchor="middle" fill="#1a1a1a">0</text>
<text x="436.80" y="1005.20" font-size="8.8" text-anchor="middle" fill="#1a1a1a">(12)</text>
<path d="M80.30,787.20 L86.50,787.20 L86.50,792.20 L96.60,792.20 L96.60,797.30 L105.60,797.30 L105.60,802.40 L116.50,802.40 L116.50,807.60 L120.70,807.60 L120.70,813.00 L133.50,813.00 L133.50,818.30 L141.10,818.30 L141.10,823.50 L144.60,823.50 L144.60,828.90 L168.90,828.90 L168.90,834.20 L180.30,834.20 L180.30,839.60 L212.30,839.60 L212.30,846.50 L374.20,846.50 L374.20,866.20 L431.50,866.20" fill="none" stroke="#2a4b6e" stroke-width="1.45" stroke-linejoin="miter"/>
<path d="M81.90,785.60V788.80M80.30,787.20H83.50M105.80,800.80V804.00M104.20,802.40H107.40M115.90,800.80V804.00M114.30,802.40H117.50M183.30,838.00V841.20M181.70,839.60H184.90M189.40,838.00V841.20M187.80,839.60H191.00M192.20,838.00V841.20M190.60,839.60H193.80M199.40,838.00V841.20M197.80,839.60H201.00M238.80,844.90V848.10M237.20,846.50H240.40M245.80,844.90V848.10M244.20,846.50H247.40M298.10,844.90V848.10M296.50,846.50H299.70M305.90,844.90V848.10M304.30,846.50H307.50M309.60,844.90V848.10M308.00,846.50H311.20M312.50,844.90V848.10M310.90,846.50H314.10M331.80,844.90V848.10M330.20,846.50H333.40M334.70,844.90V848.10M333.10,846.50H336.30M336.70,844.90V848.10M335.10,846.50H338.30M367.90,844.90V848.10M366.30,846.50H369.50M385.20,864.60V867.80M383.60,866.20H386.80M396.10,864.60V867.80M394.50,866.20H397.70M416.00,864.60V867.80M414.40,866.20H417.60M431.00,864.60V867.80M429.40,866.20H432.60" stroke="#2a4b6e" stroke-width="1.4"/>
</svg></body></html>
